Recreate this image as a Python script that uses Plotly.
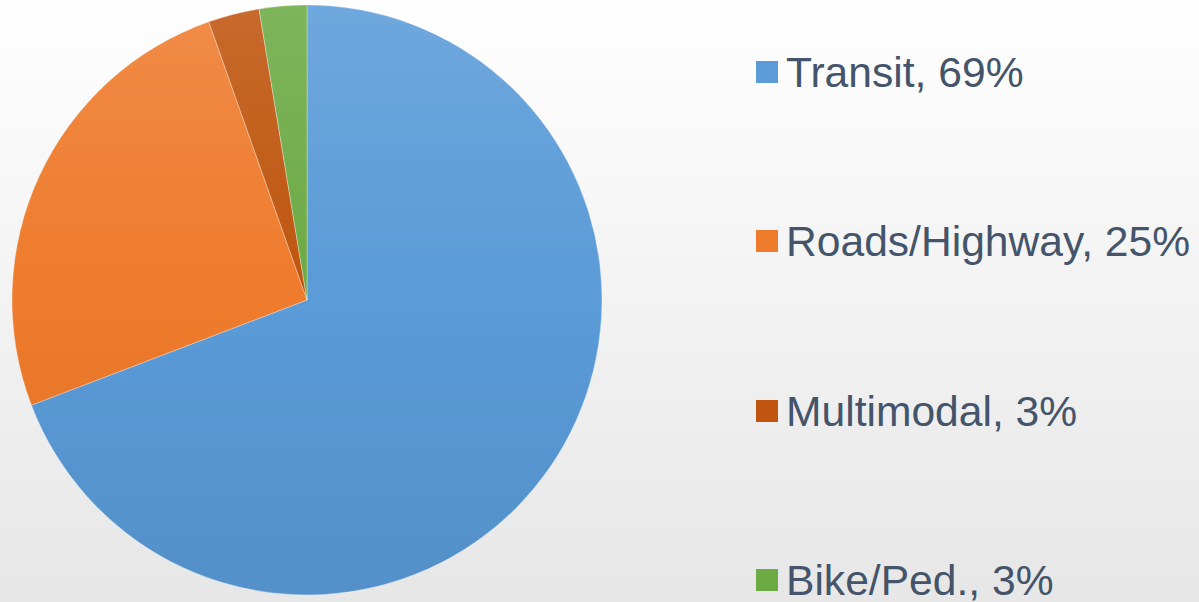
import base64, struct, zlib
import numpy as np
import plotly.graph_objects as go

# ---- data ----
categories = ["Transit", "Roads/Highway", "Multimodal", "Bike/Ped."]
values = [69.2, 25.4, 2.8, 2.6]
pct_labels = ["69%", "25%", "3%", "3%"]
colors = ["#5A9BD8", "#EF7B2C", "#BF550E", "#6CAA44"]

W, H = 1199, 602


def png_uri(arr):
    arr = np.ascontiguousarray(arr.astype(np.uint8))
    h, w, c = arr.shape
    ctype = 6 if c == 4 else 2
    raw = b"".join(b"\x00" + arr[i].tobytes() for i in range(h))

    def chunk(tag, data):
        return (struct.pack(">I", len(data)) + tag + data +
                struct.pack(">I", zlib.crc32(tag + data) & 0xFFFFFFFF))

    png = (b"\x89PNG\r\n\x1a\n" +
           chunk(b"IHDR", struct.pack(">IIBBBBB", w, h, 8, ctype, 0, 0, 0)) +
           chunk(b"IDAT", zlib.compress(raw, 9)) + chunk(b"IEND", b""))
    return "data:image/png;base64," + base64.b64encode(png).decode()


# background vertical gradient
t = np.linspace(0, 1, H)
g = 255 - 24 * t
bg = np.stack([g, g, g], axis=-1).reshape(H, 1, 3)
bg_uri = png_uri(bg)

# pie geometry (pixels)
px0, px1 = 12, 602
py0, py1 = 5, 595
D = px1 - px0

# shading overlay for the pie
yy, xx = np.mgrid[0:D, 0:D] + 0.5
r = D / 2
dist = np.sqrt((xx - r) ** 2 + (yy - r) ** 2)
inside = np.clip(r - dist, 0, 1)
tt = yy / D
white_a = np.clip(0.13 * (1 - 2 * tt), 0, None)
black_a = np.clip(0.07 * (2 * tt - 1), 0, None)
a = white_a + black_a
col = np.where(tt < 0.5, 255, 0)
ov = np.zeros((D, D, 4))
ov[..., 0] = col
ov[..., 1] = col
ov[..., 2] = col
ov[..., 3] = 255 * a * inside
ov_uri = png_uri(ov)

fig = go.Figure()
fig.add_trace(go.Pie(
    labels=categories,
    values=values,
    marker=dict(colors=colors, line=dict(color="rgba(255,255,255,0.45)", width=0.7)),
    sort=False,
    direction="clockwise",
    rotation=0,
    textinfo="none",
    hoverinfo="label+percent",
    showlegend=False,
    domain=dict(x=[px0 / W, px1 / W], y=[1 - py1 / H, 1 - py0 / H]),
))

images = [
    dict(source=bg_uri, xref="paper", yref="paper", x=0, y=1, sizex=1, sizey=1,
         sizing="stretch", xanchor="left", yanchor="top", layer="below"),
    dict(source=ov_uri, xref="paper", yref="paper", x=px0 / W, y=1 - py0 / H,
         sizex=D / W, sizey=D / H, sizing="stretch", xanchor="left",
         yanchor="top", layer="above"),
]

# custom legend
leg_y = [72, 241, 411, 580]
shapes = []
annotations = []
for name, pct, c, yc in zip(categories, pct_labels, colors, leg_y):
    shapes.append(dict(type="rect", xref="paper", yref="paper",
                       x0=756 / W, x1=778 / W, y0=1 - (yc + 11) / H, y1=1 - (yc - 11) / H,
                       fillcolor=c, line=dict(width=0)))
    annotations.append(dict(text=f"{name}, {pct}", xref="paper", yref="paper",
                            x=784 / W, y=1 - yc / H, xanchor="left", yanchor="middle",
                            showarrow=False,
                            font=dict(family="Liberation Sans, Arial", size=42.6, color="#44546A")))

fig.update_layout(
    width=W, height=H,
    margin=dict(l=0, r=0, t=0, b=0),
    paper_bgcolor="#FFFFFF",
    plot_bgcolor="rgba(0,0,0,0)",
    images=images,
    shapes=shapes,
    annotations=annotations,
)

fig.write_html("out.html", config={"displayModeBar": False},
               post_script="document.body.style.margin='0px';document.body.style.overflow='hidden';")
